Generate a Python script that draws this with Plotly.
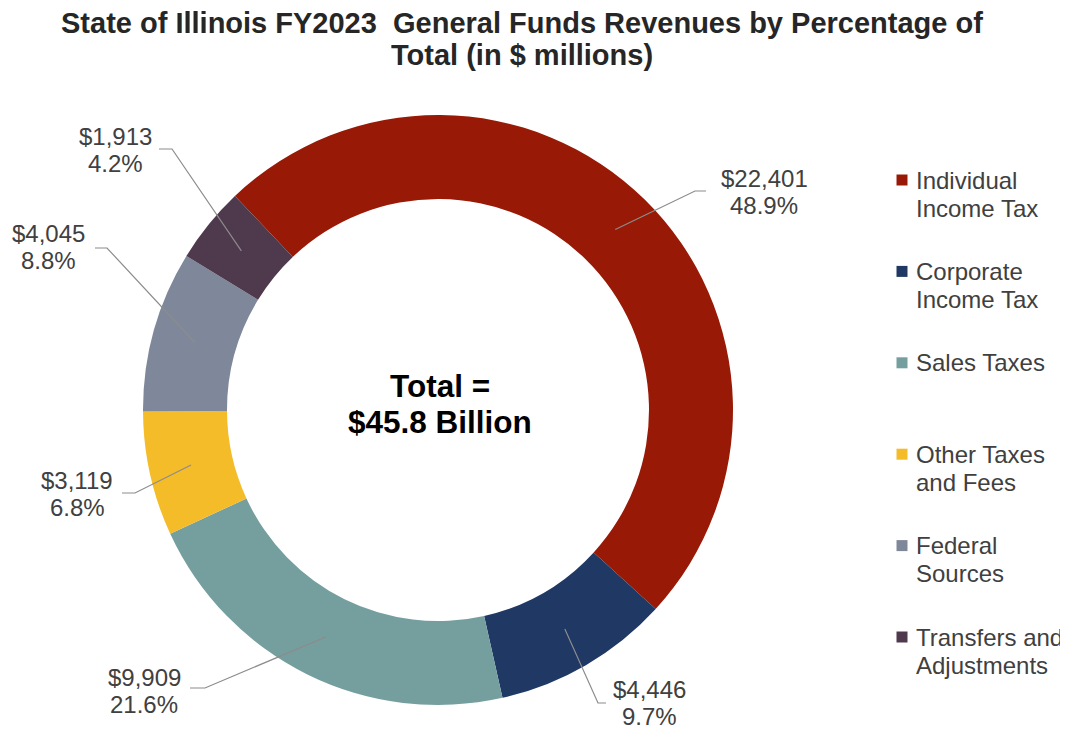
import math
import plotly.graph_objects as go

# ---------------- data ----------------
categories = ["Individual Income Tax", "Corporate Income Tax", "Sales Taxes",
              "Other Taxes and Fees", "Federal Sources", "Transfers and Adjustments"]
legend_lines = [["Individual", "Income Tax"], ["Corporate", "Income Tax"], ["Sales Taxes"],
                ["Other Taxes", "and Fees"], ["Federal", "Sources"], ["Transfers and", "Adjustments"]]
values = [22401, 4446, 9909, 3119, 4045, 1913]   # $ millions
colors = ["#981A06", "#203864", "#759F9E", "#F5BC2A", "#7F889A", "#4F394D"]
title_lines = ["State of Illinois FY2023  General Funds Revenues by Percentage of",
               "Total (in $ millions)"]

# ---------------- layout constants (pixels, page coordinates) ----------------
W, H = 1068, 729
OFF = 8  # page body margin
CX, CY, R_OUT, R_IN = 438, 410, 295, 211
ROTATION = -43.5

# label text centres and leader stub ends (near text)
label_cx = [764, 649, 144, 77, 49, 115]
label_cy = [192, 703, 691, 494, 247, 150]
stub_x = [706, 606, 190, 122, 95, 159]
stub_y = [191, 703, 688, 493, 248, 149]
stub_dx = [-11, -8, 15, 13, 12, 13]

LEG_X, LEG_Y0, LEG_STEP, LEG_LINE = 902, 180, 91.4, 28


def px(x):
    return (x - OFF) / W


def py(y):
    return 1 - (y - OFF) / H


total = sum(values)

fig = go.Figure()
fig.add_trace(go.Pie(
    labels=categories, values=values, sort=False, direction="clockwise",
    rotation=ROTATION, hole=R_IN / R_OUT,
    marker=dict(colors=colors, line=dict(width=0)),
    textinfo="none", showlegend=False, hoverinfo="label+value+percent",
    domain=dict(x=[px(CX - R_OUT), px(CX + R_OUT)], y=[py(CY + R_OUT), py(CY - R_OUT)]),
))

annotations = []
shapes = []
FAM = "Liberation Sans, Arial, sans-serif"
label_font = dict(family=FAM, size=24, color="#404040")

cum = 0.0
for i, v in enumerate(values):
    mid = ROTATION + (cum + v / 2) / total * 360.0
    cum += v
    rm = (R_OUT + R_IN) / 2
    ex = CX + rm * math.sin(math.radians(mid))
    ey = CY - rm * math.cos(math.radians(mid))
    # leader line
    sx, sy = stub_x[i], stub_y[i]
    bx = sx + stub_dx[i]
    shapes.append(dict(type="path", xref="paper", yref="paper",
                       path=f"M {px(sx)},{py(sy)} L {px(bx)},{py(sy)} L {px(ex)},{py(ey)}",
                       line=dict(color="#8C8C8C", width=1.2)))
    pct = v / total * 100
    for j, txt in enumerate([f"${v:,.0f}", f"{pct:.1f}%"]):
        annotations.append(dict(text=txt, x=px(label_cx[i]), y=py(label_cy[i] + (j - 0.5) * 27),
                                xref="paper", yref="paper", showarrow=False,
                                xanchor="center", yanchor="middle", font=label_font))

# centre text
for j, txt in enumerate(["Total =", f"${total / 1000:.1f} Billion"]):
    annotations.append(dict(text=f"<b>{txt}</b>", x=px(CX + 2), y=py(CY - 24 + j * 36),
                            xref="paper", yref="paper", showarrow=False,
                            xanchor="center", yanchor="middle",
                            font=dict(family=FAM, size=31.5, color="#000000")))

# legend
for i, lines in enumerate(legend_lines):
    yc = LEG_Y0 + i * LEG_STEP
    shapes.append(dict(type="rect", xref="paper", yref="paper",
                       x0=px(LEG_X - 5.5), x1=px(LEG_X + 5.5), y0=py(yc + 5.5), y1=py(yc - 5.5),
                       fillcolor=colors[i], line=dict(width=0)))
    for j, t in enumerate(lines):
        annotations.append(dict(text=t, x=px(LEG_X + 12), y=py(yc + j * LEG_LINE),
                                xref="paper", yref="paper", showarrow=False,
                                xanchor="left", yanchor="middle", font=label_font))

# title
for j, t in enumerate(title_lines):
    annotations.append(dict(text=f"<b>{t}</b>", x=px(522), y=py(23 + j * 32),
                            xref="paper", yref="paper", showarrow=False,
                            xanchor="center", yanchor="middle",
                            font=dict(family=FAM, size=29, color="#262626")))

fig.update_layout(width=W, height=H, margin=dict(l=0, r=0, t=0, b=0),
                  paper_bgcolor="white", plot_bgcolor="white",
                  annotations=annotations, shapes=shapes, showlegend=False)

fig.write_html("out.html")
